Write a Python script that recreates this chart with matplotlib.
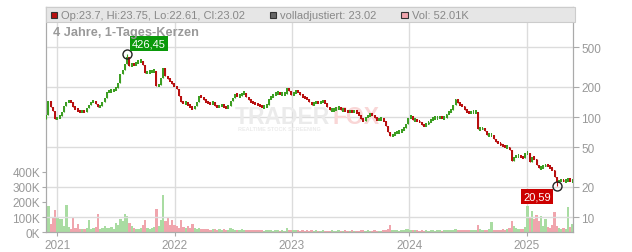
import numpy as np
import pandas as pd
import matplotlib
matplotlib.use("Agg")
import matplotlib.pyplot as plt
import matplotlib.dates as mdates
import matplotlib.ticker as mticker
from matplotlib.patches import Rectangle

plt.rcParams['font.family'] = ['Liberation Sans', 'DejaVu Sans']

# weekly closes (first week ending 2020-11-27)
first_week = "2020-11-27"
first_open = 96.0
closes = [
    105, 145, 126, 115, 95.5, 97.7, 102, 112, 129, 141,
    145, 141, 126, 120, 115, 112, 115, 112, 123, 132,
    141, 145, 135, 126, 129, 141, 155, 178, 182, 182,
    186, 195, 219, 269, 295, 339, 398, 324, 339, 331,
    347, 363, 363, 331, 275, 282, 282, 288, 288, 204,
    209, 245, 309, 257, 240, 229, 214, 204, 191, 162,
    141, 138, 138, 132, 126, 120, 129, 141, 162, 158,
    148, 141, 138, 135, 141, 129, 126, 129, 132, 126,
    123, 129, 145, 155, 170, 162, 162, 174, 174, 158,
    148, 141, 138, 135, 132, 129, 126, 126, 132, 151,
    158, 166, 174, 174, 170, 170, 170, 195, 182, 166,
    174, 182, 178, 166, 158, 155, 151, 141, 132, 138,
    141, 138, 141, 145, 138, 126, 117, 117, 120, 120,
    126, 117, 120, 115, 112, 115, 112, 115, 110, 105,
    95.5, 91.2, 100, 102, 107, 105, 97.7, 93.3, 95.5, 95.5,
    91.2, 81.3, 70.8, 64.6, 66.1, 69.2, 70.8, 70.8, 74.1, 77.6,
    85.1, 97.7, 102, 93.3, 93.3, 91.2, 89.1, 83.2, 81.3, 85.1,
    89.1, 93.3, 97.7, 97.7, 97.7, 100, 97.7, 97.7, 107, 112,
    117, 132, 151, 138, 132, 129, 117, 112, 110, 112,
    112, 112, 75.9, 75.9, 77.6, 72.4, 66.1, 66.1, 66.1, 60.3,
    56.2, 55.0, 52.5, 51.3, 50.1, 50.1, 46.8, 36.3, 39.8, 40.7,
    40.7, 39.8, 38.9, 43.7, 43.7, 35.5, 39.8, 38.0, 33.1, 30.9,
    30.9, 32.4, 33.1, 32.4, 30.9, 29.5, 25.1, 22.4, 22.9, 23.4,
    22.9, 22.9, 24.0, 22.9, 23.02,
]
volumes_k = [
    341, 174, 54, 98, 146, 98, 87, 91, 40, 178,
    33, 22, 102, 30, 54, 25, 22, 20, 30, 83,
    25, 28, 35, 120, 25, 30, 43, 28, 30, 35,
    25, 61, 45, 87, 76, 120, 109, 60, 40, 30,
    25, 22, 30, 45, 80, 30, 25, 28, 35, 152,
    40, 80, 243, 76, 104, 50, 83, 45, 40, 30,
    83, 35, 30, 40, 28, 54, 30, 25, 30, 22,
    20, 25, 22, 18, 20, 25, 18, 20, 15, 22,
    18, 15, 30, 20, 18, 15, 18, 22, 15, 12,
    15, 18, 14, 12, 15, 12, 14, 10, 12, 15,
    12, 10, 12, 14, 10, 12, 10, 28, 15, 12,
    18, 14, 12, 10, 12, 10, 12, 10, 14, 10,
    12, 10, 8, 12, 10, 8, 10, 12, 8, 10,
    12, 8, 10, 12, 10, 8, 12, 10, 8, 10,
    12, 14, 10, 12, 8, 10, 12, 10, 8, 10,
    12, 14, 20, 48, 18, 12, 14, 10, 12, 15,
    20, 25, 18, 12, 15, 12, 10, 12, 10, 12,
    10, 14, 12, 10, 12, 14, 10, 12, 14, 12,
    15, 18, 20, 15, 12, 14, 12, 15, 12, 14,
    12, 15, 48, 20, 15, 18, 14, 20, 66, 15,
    12, 18, 15, 20, 15, 25, 30, 76, 40, 30,
    25, 20, 25, 35, 174, 98, 139, 87, 113, 76,
    109, 40, 87, 35, 30, 45, 135, 40, 30, 25,
    28, 25, 170, 35, 52,
]
high_idx, high_val = 36, 426.45
low_idx, low_val = 227, 20.59

legend_ohlc = "Op:23.7, Hi:23.75, Lo:22.61, Cl:23.02"
legend_adj = "volladjustiert: 23.02"
legend_vol = "Vol: 52.01K"
title = "4 Jahre, 1-Tages-Kerzen"

price_ticks = [10, 20, 50, 100, 200, 500]
vol_ticks = [0, 100, 200, 300, 400]
years = [2021, 2022, 2023, 2024, 2025]

GREEN = "#3c9e22"
RED = "#b81010"
GREEN_V = "#a9dca2"
RED_V = "#f0a5ad"
GRID = "#dcdcdc"
LABEL = "#999999"
SPINE = "#aaaaaa"

dates = pd.date_range(first_week, periods=len(closes), freq="7D")
x = mdates.date2num(dates)
closes = np.array(closes, dtype=float)
opens = np.concatenate([[first_open], closes[:-1]])
highs = np.maximum(opens, closes)
lows = np.minimum(opens, closes)
highs[high_idx] = high_val
lows[low_idx] = low_val
up = closes >= opens

W, H = 632, 253
fig = plt.figure(figsize=(W / 100, H / 100), dpi=100)
L, R, T, B = 45.7, 573.0, 8.3, 233.3
axv = fig.add_axes([L / W, 1 - B / H, (R - L) / W, (B - T) / H])
ax = axv.twinx()

def fx(px):
    return px / W

def fy(py):
    return 1 - py / H

# volume (left axis)
axv.bar(x, volumes_k, width=7.0, color=np.where(up, GREEN_V, RED_V), linewidth=0, zorder=2)
axv.set_ylim(0, 1485)
axv.set_yticks(vol_ticks)
axv.yaxis.set_major_formatter(mticker.FuncFormatter(lambda v, p: f"{int(v)}K"))
axv.set_xlim(x[0] - 1.5, x[-1] + 1.5)
axv.set_xticks(mdates.date2num([pd.Timestamp(f"{y}-01-01") for y in years]))
axv.set_xticklabels([str(y) for y in years])
axv.grid(axis='x', color=GRID, lw=1, zorder=0)
axv.set_axisbelow(True)
axv.tick_params(axis='y', labelsize=8.5, labelcolor=LABEL, color=SPINE, length=3, pad=1)
axv.tick_params(axis='x', labelsize=8.5, labelcolor=LABEL, color=SPINE, length=3, pad=2)

# candles (right axis)
ax.set_yscale('log')
ax.set_ylim(7.04, 1250)
ax.set_yticks(price_ticks)
ax.yaxis.set_major_formatter(mticker.FuncFormatter(lambda v, p: f"{int(v)}"))
ax.yaxis.set_minor_locator(mticker.NullLocator())
ax.grid(axis='y', color=GRID, lw=1, zorder=0)
ax.set_axisbelow(True)
ax.tick_params(axis='y', labelsize=8.5, labelcolor=LABEL, color=SPINE, length=4, pad=2)

cols = np.where(up, GREEN, RED)
body_lo = np.minimum(opens, closes)
body_hi = np.maximum(opens, closes)
grow = np.sqrt(np.maximum(1.09 / (body_hi / body_lo), 1.0))
body_lo = body_lo / grow
body_hi = body_hi * grow
ax.vlines(x, lows, highs, colors=cols, lw=0.8, zorder=3)
ax.bar(x, body_hi - body_lo, bottom=body_lo, width=5.8, color=cols, linewidth=0, zorder=3)

# watermark
ax.text((235 - L) / (R - L), (B - 124) / (B - T), "TRADER", transform=ax.transAxes,
        fontsize=16.5, fontweight='bold', color="#ebebeb", va='baseline', ha='left', zorder=1)
ax.text((332 - L) / (R - L), (B - 124) / (B - T), "FOX", transform=ax.transAxes,
        fontsize=16.5, fontweight='bold', color="#f9d6d6", va='baseline', ha='left', zorder=1)
ax.text((238 - L) / (R - L), (B - 130) / (B - T), "REALTIME STOCK SCREENING", transform=ax.transAxes,
        fontsize=4, fontweight='bold', color="#ebebeb", va='center', ha='left', zorder=1)

# extreme markers
ax.plot(x[high_idx], high_val, 'o', ms=6.5, mfc='none', mec='#222222', mew=1, zorder=5)
ax.plot(x[low_idx], low_val, 'o', ms=6.5, mfc='none', mec='#222222', mew=1, zorder=5)
ax.annotate(f"{high_val:.2f}".replace('.', ','), (x[high_idx], high_val), xytext=(5, 5.5),
            textcoords='offset pixels', ha='left', va='bottom', color='white', fontsize=8,
            bbox=dict(boxstyle='square,pad=0.2', fc='#0a990a', ec='none'), zorder=6)
ax.annotate(f"{low_val:.2f}".replace('.', ','), (x[low_idx], low_val), xytext=(-5.5, -6),
            textcoords='offset pixels', ha='right', va='top', color='white', fontsize=8,
            bbox=dict(boxstyle='square,pad=0.2', fc='#cc0000', ec='none'), zorder=6)

for a in (ax, axv):
    for s in a.spines.values():
        s.set_color(SPINE)
ax.spines['top'].set_color("#cccccc")

# header band + legend
fig.patches.append(Rectangle((fx(L), fy(22.7)), fx(575) - fx(L), fy(T) - fy(22.7),
                             transform=fig.transFigure, fc="#e6e6e6", ec="#cccccc", lw=0.8, zorder=10))
items = [(50.6, RED, legend_ohlc), (269.5, "#666666", legend_adj), (401.0, RED_V, legend_vol)]
for px, c, txt in items:
    fig.patches.append(Rectangle((fx(px), fy(19)), fx(6.5), fy(12.5) - fy(19),
                                 transform=fig.transFigure, fc=c, ec="#333333", lw=0.8, zorder=11))
    fig.text(fx(px + 10.5), fy(15.8), txt, fontsize=8, color="#888888", va='center', ha='left', zorder=12)

fig.text(fx(52.6), fy(33), title, fontsize=9.2, fontweight='bold', color=LABEL, va='center', ha='left')

fig.savefig("out.png", dpi=100)
